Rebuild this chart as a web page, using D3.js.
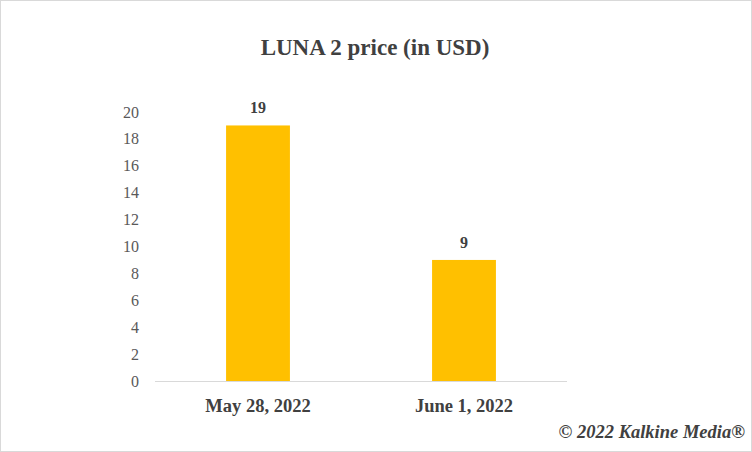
<!DOCTYPE html>
<html><head><meta charset="utf-8">
<script src="https://cdn.jsdelivr.net/npm/d3@7"></script>
<style>body{margin:0;background:#fff}svg text{font-family:"Liberation Serif","Times New Roman",serif}</style>
</head><body>
<svg id="chart" width="752" height="452"></svg>
<script>
var categories = ["May 28, 2022", "June 1, 2022"];
var prices = [19, 9];
var yTicks = [0, 2, 4, 6, 8, 10, 12, 14, 16, 18, 20];

var svg = d3.select("#chart");
svg.append("rect").attr("x", 0.5).attr("y", 0.5).attr("width", 751).attr("height", 451)
  .attr("fill", "#fff").attr("stroke", "#d9d9d9");

var x = d3.scaleBand().domain(categories).range([155, 567]);
var y = d3.scaleLinear().domain([0, 20]).range([381, 112]);
var barW = x.bandwidth() * 0.31;

svg.append("text").attr("x", 375).attr("y", 55).attr("text-anchor", "middle")
  .attr("font-size", 23).attr("font-weight", "bold").attr("fill", "#404040")
  .text("LUNA 2 price (in USD)");

// y tick labels
svg.selectAll(".yt").data(yTicks).enter().append("text")
  .attr("x", 139).attr("y", function(d) { return y(d) + 5.5; })
  .attr("text-anchor", "end").attr("font-size", 16).attr("fill", "#595959")
  .text(function(d) { return d; });

svg.selectAll(".bar").data(prices).enter().append("rect")
  .attr("x", function(d, i) { return x(categories[i]) + (x.bandwidth() - barW) / 2; })
  .attr("y", function(d) { return y(d); })
  .attr("width", barW)
  .attr("height", function(d) { return y(0) - y(d); })
  .attr("fill", "#ffc000");

svg.selectAll(".lbl").data(prices).enter().append("text")
  .attr("x", function(d, i) { return x(categories[i]) + x.bandwidth() / 2; })
  .attr("y", function(d) { return y(d) - 12; })
  .attr("text-anchor", "middle").attr("font-size", 16).attr("font-weight", "bold").attr("fill", "#404040")
  .text(function(d) { return d; });

svg.append("line").attr("x1", 155).attr("x2", 567).attr("y1", 381.5).attr("y2", 381.5)
  .attr("stroke", "#d9d9d9");

svg.selectAll(".xl").data(categories).enter().append("text")
  .attr("x", function(d) { return x(d) + x.bandwidth() / 2; })
  .attr("y", 412).attr("text-anchor", "middle")
  .attr("font-size", 18.5).attr("font-weight", "bold").attr("fill", "#404040")
  .text(function(d) { return d; });

svg.append("text").attr("x", 745).attr("y", 438).attr("text-anchor", "end")
  .attr("font-size", 18.5).attr("font-weight", "bold").attr("font-style", "italic").attr("fill", "#404040")
  .text("© 2022 Kalkine Media®");
</script>
</body></html>
